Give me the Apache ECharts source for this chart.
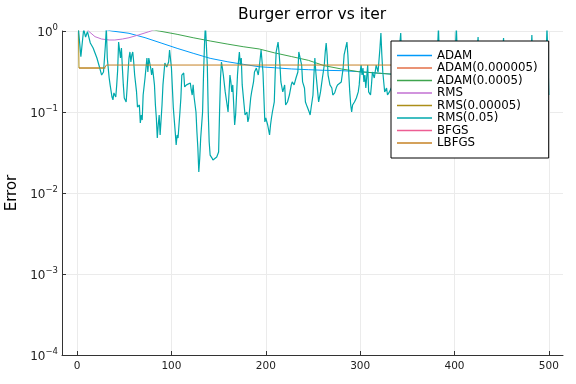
<!DOCTYPE html>
<html><head><meta charset="utf-8">
<script src="https://cdn.jsdelivr.net/npm/echarts@6/dist/echarts.min.js"></script>
<style>html,body{margin:0;padding:0;background:#fff}#c{width:576px;height:384px}</style>
</head><body><div id="c"></div><script>
const titleText = 'Burger error vs iter';
const yName = 'Error';
const seriesNames = ['ADAM','ADAM(0.000005)','ADAM(0.0005)','RMS','RMS(0.00005)','RMS(0.05)','BFGS','LBFGS'];
const seriesColors = ['#009AFA','#E36F47','#3EA44E','#C271D2','#AC8E18','#00A9AD','#ED5E93','#C68225'];
const xTicks = [0,100,200,300,400,500];

const adam = [[1,1.26],[20,1.1],[37,1.0],[55,0.937],[72,0.827],[89,0.711],[106,0.611],[123,0.531],[141,0.46],[159,0.418],[176,0.388],[193,0.362],[209,0.352],[227,0.34],[245,0.333],[262,0.327],[280,0.324],[298,0.315],[332,0.294],[370,0.28],[420,0.27],[460,0.265],[500,0.26]];
const adam000005 = [[1,2.5],[100,2.3],[200,2.1],[300,1.9],[400,1.8],[500,1.7]];
const adam0005 = [[1,1.5],[40,1.25],[87,1.0],[106,0.91],[123,0.826],[141,0.753],[159,0.691],[176,0.64],[193,0.6],[209,0.538],[227,0.484],[245,0.435],[262,0.373],[280,0.34],[298,0.315],[332,0.294],[370,0.278],[420,0.268],[460,0.263],[500,0.258]];
const rms = [[1,1.6],[5,1.3],[12,1.0],[19,0.851],[26,0.796],[34,0.774],[40,0.774],[48,0.796],[55,0.826],[65,0.893],[76,0.98],[80,1.02],[100,1.3],[150,2.4],[200,4.5],[300,12],[400,30],[500,70]];
const rms00005 = [[1,3],[2,0.349],[30,0.349]];
const rms005 = [[1,1.2],[4,0.482],[6,0.82],[7,1.05],[9,0.843],[11,0.98],[14,0.711],[17,0.617],[21,0.464],[24,0.349],[26,0.286],[28,0.312],[30,0.672],[31,1.1],[32,0.464],[34,0.263],[35,0.216],[37,0.153],[38,0.141],[39,0.172],[41,0.153],[42,0.216],[43,0.33],[44,0.731],[46,0.464],[47,0.617],[48,0.349],[49,0.216],[50,0.149],[52,0.133],[53,0.198],[54,0.312],[55,0.464],[56,0.551],[57,0.414],[58,0.506],[59,0.551],[60,0.414],[61,0.286],[63,0.177],[64,0.115],[66,0.122],[67,0.0732],[68,0.0918],[69,0.0796],[70,0.162],[72,0.263],[73,0.349],[74,0.464],[75,0.312],[76,0.464],[78,0.349],[79,0.286],[80,0.349],[82,0.216],[83,0.122],[84,0.0843],[85,0.0478],[86,0.0691],[87,0.0918],[88,0.052],[90,0.122],[91,0.216],[93,0.403],[95,0.359],[97,0.414],[98,0.583],[100,0.349],[102,0.112],[104,0.0566],[105,0.0391],[106,0.052],[107,0.0478],[109,0.1],[110,0.149],[111,0.286],[113,0.303],[114,0.204],[116,0.216],[118,0.228],[120,0.228],[121,0.187],[122,0.162],[123,0.216],[124,0.153],[126,0.1],[127,0.0566],[128,0.036],[129,0.0182],[130,0.027],[131,0.0478],[133,0.1],[134,0.286],[135,0.672],[136,1.2],[137,1.2],[138,0.38],[139,0.1],[140,0.0426],[141,0.0294],[143,0.027],[144,0.0255],[146,0.0255],[148,0.0278],[150,0.0321],[151,0.1],[152,0.263],[153,0.414],[154,0.349],[155,0.286],[157,0.177],[159,0.122],[160,0.1],[162,0.286],[163,0.235],[164,0.177],[165,0.216],[166,0.122],[167,0.0691],[168,0.0918],[170,0.286],[171,0.414],[172,0.551],[173,0.38],[174,0.464],[175,0.216],[177,0.122],[178,0.0918],[180,0.1],[181,0.0753],[182,0.0843],[184,0.149],[185,0.177],[187,0.235],[188,0.312],[190,0.349],[192,0.286],[193,0.349],[195,0.583],[197,0.312],[199,0.0753],[200,0.0843],[202,0.0691],[203,0.0691],[204,0.052],[205,0.0691],[206,0.0843],[207,0.1],[209,0.133],[210,0.312],[211,0.551],[213,0.731],[214,0.551],[215,0.38],[216,0.235],[218,0.177],[220,0.216],[221,0.122],[223,0.133],[225,0.162],[227,0.216],[228,0.235],[230,0.216],[232,0.263],[234,0.312],[235,0.551],[237,0.583],[238,0.38],[239,0.235],[241,0.198],[242,0.133],[244,0.115],[246,0.1],[247,0.0918],[248,0.112],[250,0.162],[251,0.286],[252,0.464],[253,0.312],[255,0.177],[256,0.133],[258,0.177],[259,0.216],[260,0.263],[262,0.38],[263,0.551],[264,0.711],[265,0.506],[266,0.286],[268,0.216],[270,0.198],[271,0.162],[273,0.172],[275,0.204],[276,0.216],[278,0.216],[280,0.235],[282,0.349],[283,0.506],[286,0.731],[287,0.506],[288,0.286],[289,0.177],[290,0.122],[291,0.1],[292,0.122],[294,0.133],[296,0.149],[298,0.177],[299,0.216],[300,0.312],[301,0.38],[302,0.286],[303,0.349],[304,0.235],[305,0.286],[306,0.198],[308,0.38],[309,0.177],[311,0.162],[312,0.216],[313,0.312],[315,0.263],[317,0.38],[319,0.312],[321,0.617],[322,0.945],[323,0.506],[324,0.312],[325,0.235],[326,0.177],[328,0.198],[329,0.162],[331,0.177],[333,0.198],[335,0.22],[337,0.3],[339,0.25],[341,0.5],[343,0.945],[344,0.45],[346,0.2],[348,0.16],[350,0.25],[352,0.18],[354,0.3],[356,0.22],[358,0.15],[360,0.2],[362,0.35],[364,0.25],[366,0.18],[368,0.28],[370,0.2],[372,0.15],[374,0.22],[376,0.32],[378,0.24],[380,0.3],[382,0.6],[383,1.1],[384,0.45],[386,0.22],[388,0.17],[390,0.2],[392,0.28],[394,0.2],[396,0.16],[398,0.24],[400,0.35],[402,1.1],[403,0.5],[405,0.25],[407,0.18],[409,0.22],[411,0.3],[413,0.2],[415,0.15],[417,0.2],[419,0.27],[421,0.2],[423,0.4],[425,0.843],[426,0.35],[428,0.2],[430,0.16],[432,0.22],[434,0.28],[436,0.2],[438,0.17],[440,0.24],[442,0.3],[444,0.22],[446,0.18],[448,0.25],[450,0.4],[452,0.82],[453,0.35],[455,0.2],[457,0.16],[459,0.22],[461,0.3],[463,0.2],[465,0.17],[467,0.25],[469,0.2],[471,0.15],[473,0.22],[475,0.3],[477,0.22],[479,0.18],[481,0.45],[482,0.892],[483,0.4],[485,0.22],[487,0.17],[489,0.24],[491,0.3],[493,0.2],[495,0.25],[497,0.4],[498,1.1],[499,0.5],[500,0.162]];
const bfgs = [[1,4],[2,3.5],[3,3.2]];
const lbfgs = [[2,0.349],[29,0.349],[31,0.38],[500,0.38]];

const allData = [adam, adam000005, adam0005, rms, rms00005, rms005, bfgs, lbfgs];
const FONT = 'DejaVu Sans';

const chart = echarts.init(document.getElementById('c'), null, {renderer:'canvas'});
chart.setOption({
  animation: false,
  backgroundColor: '#fff',
  title: {text: titleText, left: 307, top: 2, textAlign: 'center',
    textStyle: {fontFamily: FONT, fontSize: 15.5, fontWeight: 'normal', color: '#000'}},
  grid: {left: 62, right: 13, top: 31, bottom: 29, containLabel: false, outerBoundsMode: 'none'},
  legend: {
    orient: 'vertical', left: 391, top: 41, selectedMode: false,
    data: seriesNames, icon: 'rect', itemWidth: 35, itemHeight: 1.5, itemGap: 0.5,
    padding: [8.5, 11, 9, 6],
    borderColor: '#000', borderWidth: 1, backgroundColor: '#fff', borderRadius: 0,
    textStyle: {fontFamily: FONT, fontSize: 11.8, lineHeight: 12, color: '#000'}
  },
  xAxis: {
    type: 'value', min: -16, max: 515,
    axisLine: {show: true, onZero: false, lineStyle: {color: '#333', width: 1}},
    axisTick: {show: true, inside: true, length: 4, customValues: xTicks, lineStyle: {color: '#333'}},
    axisLabel: {customValues: xTicks, fontFamily: FONT, fontSize: 10.5, color: '#222', margin: 6},
    splitLine: {show: true, lineStyle: {color: '#ebebeb', width: 1}}
  },
  yAxis: {
    type: 'log', logBase: 10, min: 1e-4, max: 1,
    name: yName, nameLocation: 'middle', nameRotate: 90, nameGap: 42,
    nameTextStyle: {fontFamily: FONT, fontSize: 15, color: '#000'},
    axisLine: {show: true, onZero: false, lineStyle: {color: '#333', width: 1}},
    axisTick: {show: true, inside: true, length: 4, lineStyle: {color: '#333'}},
    axisLabel: {
      margin: 4,
      formatter: v => { const e = Math.round(Math.log10(v)); return '{b|10}{s|' + (e < 0 ? '\u2212' + (-e) : String(e)) + '}'; },
      rich: {
        b: {fontFamily: FONT, fontSize: 12, color: '#222', lineHeight: 16, verticalAlign: 'bottom'},
        s: {fontFamily: FONT, fontSize: 8.5, color: '#222', lineHeight: 10, verticalAlign: 'top'}
      }
    },
    splitLine: {show: true, lineStyle: {color: '#ebebeb', width: 1}}
  },
  series: seriesNames.map((n, i) => ({
    name: n, type: 'line', data: allData[i], showSymbol: false, symbol: 'none',
    clip: true, color: seriesColors[i],
    lineStyle: {color: seriesColors[i], width: i === 5 ? 1.2 : 1}
  }))
});
</script></body></html>
